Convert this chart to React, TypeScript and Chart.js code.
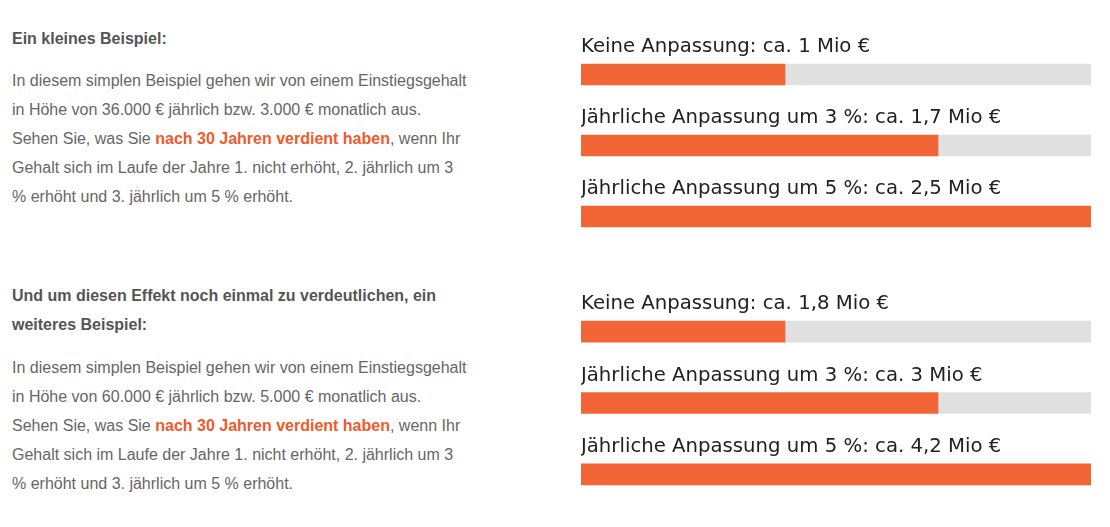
import React, { useEffect, useRef } from "react";
import { Chart, registerables } from "chart.js";

Chart.register(...registerables);

// ---- data ----
const group1Labels = [
  "Keine Anpassung: ca. 1 Mio €",
  "Jährliche Anpassung um 3 %: ca. 1,7 Mio €",
  "Jährliche Anpassung um 5 %: ca. 2,5 Mio €",
];
const group1Values = [40, 70, 100];

const group2Labels = [
  "Keine Anpassung: ca. 1,8 Mio €",
  "Jährliche Anpassung um 3 %: ca. 3 Mio €",
  "Jährliche Anpassung um 5 %: ca. 4,2 Mio €",
];
const group2Values = [40, 70, 100];

const scaleMax = 100;

const ORANGE = "#f26536";
const TRACK = "#e0e0e0";
const LABEL_FONT = "19.7px 'DejaVu Sans'";
const PAD_TOP = 30;

const labelPlugin = {
  id: "barLabels",
  afterDatasetsDraw(chart: any) {
    const ctx = chart.ctx;
    const meta = chart.getDatasetMeta(0);
    const labels = chart.data.labels as string[];
    ctx.save();
    ctx.font = LABEL_FONT;
    ctx.fillStyle = "#222222";
    ctx.textBaseline = "alphabetic";
    ctx.textAlign = "left";
    meta.data.forEach((bar: any, i: number) => {
      const top = bar.y - bar.height / 2;
      ctx.fillText(labels[i], chart.chartArea.left, top - 12);
    });
    ctx.restore();
  },
};

function BarGroup({
  labels,
  values,
  top,
  height,
}: {
  labels: string[];
  values: number[];
  top: number;
  height: number;
}) {
  const ref = useRef<HTMLCanvasElement | null>(null);
  useEffect(() => {
    if (!ref.current) return;
    const chart = new Chart(ref.current, {
      type: "bar",
      data: {
        labels,
        datasets: [
          {
            data: values,
            backgroundColor: ORANGE,
            barThickness: 21,
            borderWidth: 0,
          },
          {
            data: values.map((v) => scaleMax - v),
            backgroundColor: TRACK,
            barThickness: 21,
            borderWidth: 0,
          },
        ],
      },
      options: {
        indexAxis: "y",
        animation: false,
        responsive: false,
        maintainAspectRatio: false,
        layout: { padding: { top: PAD_TOP, left: 0, right: 0, bottom: 0 } },
        plugins: {
          legend: { display: false },
          tooltip: { enabled: false },
          title: { display: false },
        },
        scales: {
          x: { stacked: true, display: false, min: 0, max: scaleMax },
          y: { stacked: true, display: false, offset: true },
        },
      },
      plugins: [labelPlugin],
    });
    return () => chart.destroy();
  }, []);
  return (
    <canvas
      ref={ref}
      width={510}
      height={height}
      style={{ position: "absolute", left: 581, top, width: 510, height }}
    />
  );
}

const textStyle: React.CSSProperties = {
  position: "absolute",
  left: 12,
  fontFamily: "'Liberation Sans', Arial, sans-serif",
  fontSize: 16,
  lineHeight: "29px",
  color: "#666666",
  whiteSpace: "nowrap",
};
const headStyle: React.CSSProperties = {
  ...textStyle,
  fontWeight: "bold",
  color: "#555555",
};
const hl: React.CSSProperties = { color: "#f2592b", fontWeight: "bold" };

export default function App() {
  return (
    <div style={{ position: "absolute", left: 0, top: 0, width: 1110, height: 527 }}>
      <div style={{ ...headStyle, top: 23.5 }}>Ein kleines Beispiel:</div>
      <div style={{ ...textStyle, top: 65.5 }}>
        In diesem simplen Beispiel gehen wir von einem Einstiegsgehalt
        <br />
        in Höhe von 36.000 € jährlich bzw. 3.000 € monatlich aus.
        <br />
        Sehen Sie, was Sie <span style={hl}>nach 30 Jahren verdient haben</span>, wenn Ihr
        <br />
        Gehalt sich im Laufe der Jahre 1. nicht erhöht, 2. jährlich um 3
        <br />% erhöht und 3. jährlich um 5 % erhöht.
      </div>
      <div style={{ ...headStyle, top: 280.5 }}>
        Und um diesen Effekt noch einmal zu verdeutlichen, ein
        <br />
        weiteres Beispiel:
      </div>
      <div style={{ ...textStyle, top: 352.5 }}>
        In diesem simplen Beispiel gehen wir von einem Einstiegsgehalt
        <br />
        in Höhe von 60.000 € jährlich bzw. 5.000 € monatlich aus.
        <br />
        Sehen Sie, was Sie <span style={hl}>nach 30 Jahren verdient haben</span>, wenn Ihr
        <br />
        Gehalt sich im Laufe der Jahre 1. nicht erhöht, 2. jährlich um 3
        <br />% erhöht und 3. jährlich um 5 % erhöht.
      </div>
      <BarGroup labels={group1Labels} values={group1Values} top={39 - PAD_TOP} height={213 + PAD_TOP} />
      <BarGroup labels={group2Labels} values={group2Values} top={296 - PAD_TOP} height={214 + PAD_TOP} />
    </div>
  );
}
